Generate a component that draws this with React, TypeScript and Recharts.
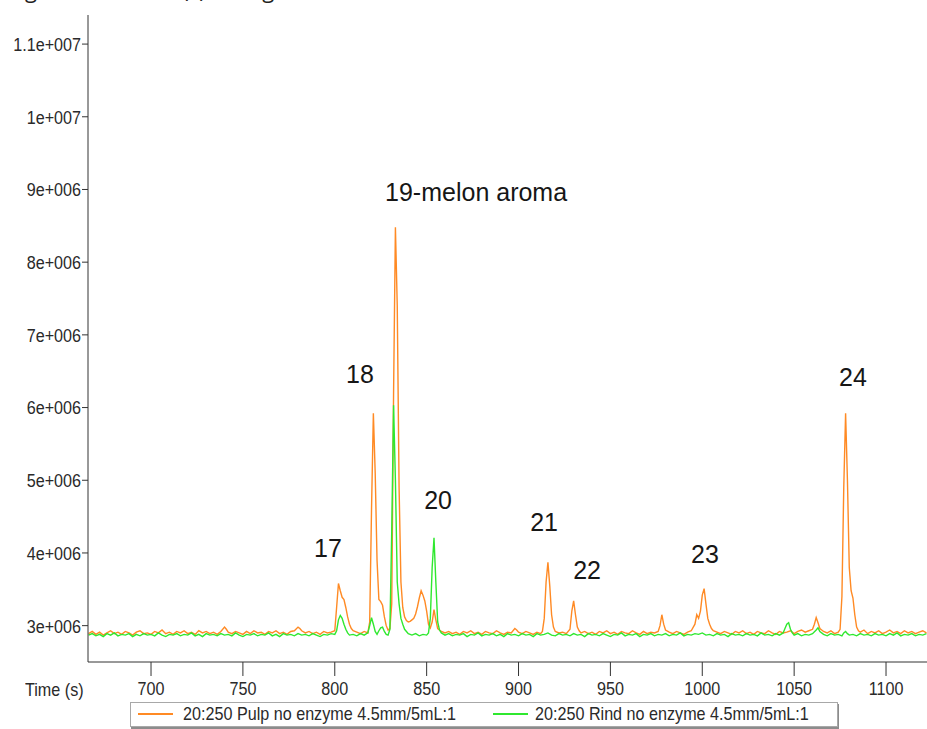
import React from 'react';
import { LineChart, Line, XAxis, YAxis, ReferenceDot } from 'recharts';

// signal values are in units of 1e6 counts
const pulpTrace: [number, number][] = [
  [666, 2.89], [668, 2.92], [670, 2.88], [672, 2.91], [674, 2.87], [676, 2.9], [678, 2.93], [680, 2.89],
  [682, 2.91], [684, 2.88], [686, 2.92], [688, 2.9], [690, 2.87], [692, 2.91], [694, 2.93], [696, 2.89],
  [698, 2.9], [700, 2.88], [702, 2.92], [704, 2.9], [706, 2.94], [708, 2.89], [710, 2.91], [712, 2.88],
  [714, 2.92], [716, 2.9], [718, 2.93], [720, 2.89], [722, 2.91], [724, 2.88], [726, 2.93], [728, 2.9],
  [730, 2.92], [732, 2.89], [734, 2.91], [736, 2.88], [738, 2.92], [740, 2.98], [741, 2.95], [742, 2.91],
  [744, 2.89], [746, 2.92], [748, 2.9], [750, 2.88], [752, 2.92], [754, 2.89], [756, 2.93], [758, 2.9],
  [760, 2.91], [762, 2.88], [764, 2.92], [766, 2.9], [768, 2.93], [770, 2.89], [772, 2.91], [774, 2.88],
  [776, 2.92], [778, 2.93], [780, 2.98], [781, 2.96], [782, 2.93], [784, 2.9], [786, 2.92], [788, 2.89],
  [790, 2.91], [792, 2.88], [794, 2.92], [796, 2.9], [798, 2.91], [800, 2.93], [801, 3.25], [802, 3.58],
  [803, 3.48], [804, 3.39], [805, 3.36], [806, 3.25], [807, 3.12], [808, 3.02], [809, 2.96], [810, 2.93],
  [812, 2.91], [814, 2.89], [816, 2.92], [818, 2.9], [819, 3.05], [820, 4.6], [821, 5.92], [822, 5.1],
  [823, 3.9], [824, 3.36], [825, 3.33], [826, 3.28], [827, 3.12], [828, 3.0], [829, 2.94], [830, 2.96],
  [831, 3.3], [832, 6.2], [833, 8.48], [834, 7.4], [835, 4.9], [836, 3.6], [837, 3.25], [838, 3.12],
  [839, 3.07], [840, 3.05], [841, 3.06], [842, 3.08], [843, 3.1], [844, 3.16], [845, 3.26], [846, 3.38],
  [847, 3.48], [848, 3.42], [849, 3.34], [850, 3.2], [851, 3.02], [852, 2.97], [853, 3.05], [854, 3.22],
  [855, 3.08], [856, 2.96], [858, 2.92], [860, 2.9], [862, 2.92], [864, 2.89], [866, 2.91], [868, 2.88],
  [870, 2.92], [872, 2.9], [874, 2.93], [876, 2.89], [878, 2.91], [880, 2.88], [882, 2.92], [884, 2.9],
  [886, 2.89], [888, 2.93], [890, 2.9], [892, 2.88], [894, 2.91], [896, 2.9], [898, 2.96], [899, 2.94],
  [900, 2.91], [902, 2.89], [904, 2.92], [906, 2.9], [908, 2.88], [910, 2.91], [912, 2.89], [913, 2.92],
  [914, 3.1], [915, 3.6], [916, 3.87], [917, 3.55], [918, 3.15], [919, 2.98], [920, 2.92], [922, 2.9],
  [924, 2.91], [926, 2.89], [928, 2.95], [929, 3.2], [930, 3.34], [931, 3.15], [932, 2.98], [933, 2.93],
  [934, 2.9], [936, 2.92], [938, 2.89], [940, 2.91], [942, 2.88], [944, 2.92], [946, 2.9], [948, 2.93],
  [950, 2.89], [952, 2.91], [954, 2.88], [956, 2.92], [958, 2.9], [960, 2.89], [962, 2.93], [964, 2.9],
  [966, 2.88], [968, 2.92], [970, 2.89], [972, 2.91], [974, 2.9], [976, 2.92], [977, 3.0], [978, 3.15],
  [979, 3.02], [980, 2.94], [982, 2.91], [984, 2.89], [986, 2.92], [988, 2.9], [990, 2.88], [992, 2.91],
  [994, 2.93], [996, 3.02], [997, 3.15], [998, 3.1], [999, 3.2], [1000, 3.42], [1001, 3.51], [1002, 3.3],
  [1003, 3.1], [1004, 3.02], [1005, 2.96], [1006, 2.93], [1008, 2.91], [1010, 2.89], [1012, 2.92], [1014, 2.9],
  [1016, 2.88], [1018, 2.92], [1020, 2.9], [1022, 2.93], [1024, 2.89], [1026, 2.91], [1028, 2.88], [1030, 2.92],
  [1032, 2.9], [1034, 2.89], [1036, 2.93], [1038, 2.9], [1040, 2.88], [1042, 2.92], [1044, 2.9], [1046, 2.91],
  [1048, 2.93], [1050, 2.89], [1052, 2.92], [1054, 2.94], [1056, 2.91], [1058, 2.93], [1060, 2.95], [1061, 3.02],
  [1062, 3.11], [1063, 3.04], [1064, 2.96], [1066, 2.92], [1068, 2.9], [1070, 2.93], [1072, 2.89], [1074, 2.91],
  [1075, 2.95], [1076, 3.4], [1077, 4.9], [1078, 5.92], [1079, 5.0], [1080, 3.8], [1081, 3.48], [1082, 3.38],
  [1083, 3.15], [1084, 2.98], [1085, 2.93], [1086, 2.91], [1088, 2.94], [1090, 2.89], [1092, 2.92], [1094, 2.9],
  [1096, 2.93], [1098, 2.89], [1100, 2.91], [1102, 2.94], [1104, 2.9], [1106, 2.92], [1108, 2.89], [1110, 2.93],
  [1112, 2.9], [1114, 2.92], [1116, 2.89], [1118, 2.91], [1120, 2.93], [1122, 2.9],
];

const rindTrace: [number, number][] = [
  [666, 2.87], [668, 2.89], [670, 2.86], [672, 2.88], [674, 2.85], [676, 2.89], [678, 2.87], [680, 2.9],
  [682, 2.86], [684, 2.88], [686, 2.87], [688, 2.89], [690, 2.85], [692, 2.88], [694, 2.86], [696, 2.89],
  [698, 2.87], [700, 2.88], [702, 2.86], [704, 2.9], [706, 2.87], [708, 2.85], [710, 2.88], [712, 2.87],
  [714, 2.89], [716, 2.86], [718, 2.88], [720, 2.87], [722, 2.9], [724, 2.86], [726, 2.88], [728, 2.85],
  [730, 2.89], [732, 2.87], [734, 2.88], [736, 2.86], [738, 2.89], [740, 2.87], [742, 2.88], [744, 2.86],
  [746, 2.9], [748, 2.87], [750, 2.85], [752, 2.88], [754, 2.87], [756, 2.89], [758, 2.86], [760, 2.88],
  [762, 2.87], [764, 2.9], [766, 2.86], [768, 2.88], [770, 2.85], [772, 2.89], [774, 2.87], [776, 2.88],
  [778, 2.86], [780, 2.89], [782, 2.87], [784, 2.88], [786, 2.86], [788, 2.89], [790, 2.87], [792, 2.85],
  [794, 2.88], [796, 2.87], [798, 2.89], [800, 2.88], [801, 2.93], [802, 3.08], [803, 3.14], [804, 3.1],
  [805, 3.02], [806, 2.95], [807, 2.9], [808, 2.87], [810, 2.88], [812, 2.86], [814, 2.89], [816, 2.87],
  [818, 2.9], [819, 3.0], [820, 3.11], [821, 3.02], [822, 2.92], [823, 2.88], [824, 2.93], [825, 2.97],
  [826, 2.98], [827, 2.92], [828, 2.88], [829, 2.87], [830, 2.95], [831, 4.3], [832, 6.03], [833, 5.0],
  [834, 3.6], [835, 3.3], [836, 3.1], [837, 3.02], [838, 2.95], [839, 2.92], [840, 2.89], [842, 2.87],
  [844, 2.89], [846, 2.86], [848, 2.88], [850, 2.87], [851, 2.9], [852, 3.1], [853, 3.8], [854, 4.21],
  [855, 3.6], [856, 3.05], [857, 2.94], [858, 2.9], [860, 2.87], [862, 2.89], [864, 2.86], [866, 2.88],
  [868, 2.87], [870, 2.89], [872, 2.85], [874, 2.88], [876, 2.87], [878, 2.9], [880, 2.86], [882, 2.88],
  [884, 2.87], [886, 2.89], [888, 2.86], [890, 2.88], [892, 2.85], [894, 2.89], [896, 2.87], [898, 2.88],
  [900, 2.86], [902, 2.89], [904, 2.87], [906, 2.88], [908, 2.85], [910, 2.89], [912, 2.87], [914, 2.88],
  [916, 2.9], [918, 2.87], [920, 2.86], [922, 2.89], [924, 2.87], [926, 2.88], [928, 2.86], [930, 2.89],
  [932, 2.87], [934, 2.88], [936, 2.85], [938, 2.89], [940, 2.87], [942, 2.88], [944, 2.86], [946, 2.89],
  [948, 2.87], [950, 2.85], [952, 2.88], [954, 2.87], [956, 2.9], [958, 2.86], [960, 2.88], [962, 2.87],
  [964, 2.89], [966, 2.85], [968, 2.88], [970, 2.87], [972, 2.89], [974, 2.86], [976, 2.88], [978, 2.87],
  [980, 2.89], [982, 2.86], [984, 2.88], [986, 2.87], [988, 2.9], [990, 2.86], [992, 2.88], [994, 2.87],
  [996, 2.89], [998, 2.88], [1000, 2.9], [1002, 2.87], [1004, 2.88], [1006, 2.86], [1008, 2.89], [1010, 2.87],
  [1012, 2.88], [1014, 2.85], [1016, 2.89], [1018, 2.87], [1020, 2.88], [1022, 2.86], [1024, 2.89], [1026, 2.87],
  [1028, 2.88], [1030, 2.86], [1032, 2.9], [1034, 2.87], [1036, 2.88], [1038, 2.86], [1040, 2.89], [1042, 2.87],
  [1044, 2.9], [1045, 2.96], [1046, 3.02], [1047, 3.04], [1048, 2.95], [1049, 2.9], [1050, 2.87], [1052, 2.89],
  [1054, 2.86], [1056, 2.88], [1058, 2.87], [1060, 2.89], [1062, 2.94], [1063, 2.97], [1064, 2.92], [1066, 2.88],
  [1068, 2.86], [1070, 2.89], [1072, 2.87], [1074, 2.88], [1076, 2.86], [1077, 2.9], [1078, 2.92], [1079, 2.89],
  [1080, 2.87], [1082, 2.88], [1084, 2.86], [1086, 2.89], [1088, 2.87], [1090, 2.88], [1092, 2.86], [1094, 2.89],
  [1096, 2.87], [1098, 2.88], [1100, 2.86], [1102, 2.89], [1104, 2.87], [1106, 2.9], [1108, 2.86], [1110, 2.88],
  [1112, 2.87], [1114, 2.89], [1116, 2.86], [1118, 2.88], [1120, 2.87], [1122, 2.89],
];

const xTicks = [700, 750, 800, 850, 900, 950, 1000, 1050, 1100];
const yTicks = [3, 4, 5, 6, 7, 8, 9, 10, 11];

// peak annotations: [label, time, signal]
const peakLabels: [string, number, number][] = [
  ['17', 796.3, 4.07],
  ['18', 813.7, 6.46],
  ['19-melon aroma', 876.9, 8.96],
  ['20', 856.2, 4.72],
  ['21', 913.9, 4.43],
  ['22', 937.3, 3.77],
  ['23', 1001.5, 3.99],
  ['24', 1082.0, 6.42],
];

const seriesNames = ['20:250 Pulp no enzyme 4.5mm/5mL:1', '20:250 Rind no enzyme 4.5mm/5mL:1'];
const ORANGE = '#ff8a24';
const GREEN = '#2fe82f';

// no narrow face installed, so Liberation Sans gets squeezed horizontally
const tickFont = '"Liberation Sans", Arial, sans-serif';
const SQUEEZE = 0.85;
const TEXT = '#2a2a2a';

const fmtY = (v: number) => (v === 11 ? '1.1e+007' : v === 10 ? '1e+007' : `${v}e+006`);

const toRows = (trace: [number, number][]) => trace.map(([t, v]) => ({ t, v }));

const YTick = (props: any) => {
  const { x, y, payload } = props;
  return (
    <g transform={`translate(${x},${y})`}>
      <text transform={`scale(${SQUEEZE},1)`} textAnchor="end" dy="0.36em" fill={TEXT} fontSize={19} fontFamily={tickFont}>
        {fmtY(payload.value)}
      </text>
    </g>
  );
};

const XTick = (props: any) => {
  const { x, y, payload } = props;
  return (
    <g transform={`translate(${x},${y})`}>
      <text transform={`scale(${SQUEEZE},1)`} textAnchor="middle" dy="0.75em" fill={TEXT} fontSize={19} fontFamily={tickFont}>
        {payload.value}
      </text>
    </g>
  );
};

const squeezed: React.CSSProperties = {
  position: 'absolute',
  display: 'inline-block',
  transform: `scaleX(${SQUEEZE})`,
  transformOrigin: 'left center',
  whiteSpace: 'nowrap',
  fontFamily: tickFont,
  fontSize: 19,
  lineHeight: '22px',
  color: TEXT,
};

export default function App() {
  const pulp = toRows(pulpTrace);
  const rind = toRows(rindTrace);

  return (
    <div style={{ position: 'absolute', left: 0, top: 0, width: 927, height: 729, overflow: 'hidden', background: '#fff' }}>
      <div
        style={{
          position: 'absolute',
          left: 8,
          top: -23,
          fontFamily: '"Open Sans", sans-serif',
          fontSize: 22,
          lineHeight: '24px',
          color: '#222',
          whiteSpace: 'nowrap',
        }}
      >
        Figure 3: Section (c) full figure
      </div>

      <LineChart width={927} height={729} margin={{ top: 15, right: 0, left: 0, bottom: 0 }}>
        <XAxis
          dataKey="t"
          type="number"
          domain={[665.7, 1122.3]}
          allowDataOverflow
          ticks={xTicks}
          tick={<XTick />}
          tickSize={14}
          tickMargin={5}
          height={67}
          stroke="#333"
        />
        <YAxis
          type="number"
          domain={[2.5, 11.4]}
          allowDataOverflow
          ticks={yTicks}
          tick={<YTick />}
          tickSize={6}
          tickMargin={1}
          width={88}
          stroke="#333"
        />
        <Line
          data={pulp}
          dataKey="v"
          name={seriesNames[0]}
          stroke={ORANGE}
          strokeWidth={1.4}
          dot={false}
          isAnimationActive={false}
        />
        <Line
          data={rind}
          dataKey="v"
          name={seriesNames[1]}
          stroke={GREEN}
          strokeWidth={1.4}
          dot={false}
          isAnimationActive={false}
        />
        {peakLabels.map(([text, t, v]) => (
          <ReferenceDot
            key={text}
            x={t}
            y={v}
            r={0}
            fill="none"
            stroke="none"
            label={{ value: text, position: 'center', fill: '#161616', fontSize: 25, fontFamily: '"Liberation Sans", Arial, sans-serif' }}
          />
        ))}
      </LineChart>

      <span style={{ ...squeezed, left: 25, top: 679 }}>Time (s)</span>

      <div
        style={{
          position: 'absolute',
          left: 130,
          top: 702,
          width: 706,
          height: 23,
          border: '1px solid #a8a8a8',
          boxShadow: '1px 2px 0 #8c8c8c',
          background: '#fff',
        }}
      >
        {seriesNames.map((name, i) => (
          <React.Fragment key={name}>
            <span
              style={{
                position: 'absolute',
                left: i === 0 ? 7 : 362,
                top: 10,
                width: 35,
                height: 2,
                background: i === 0 ? ORANGE : GREEN,
              }}
            />
            <span style={{ ...squeezed, left: i === 0 ? 52 : 404, top: 0 }}>{name}</span>
          </React.Fragment>
        ))}
      </div>
    </div>
  );
}
